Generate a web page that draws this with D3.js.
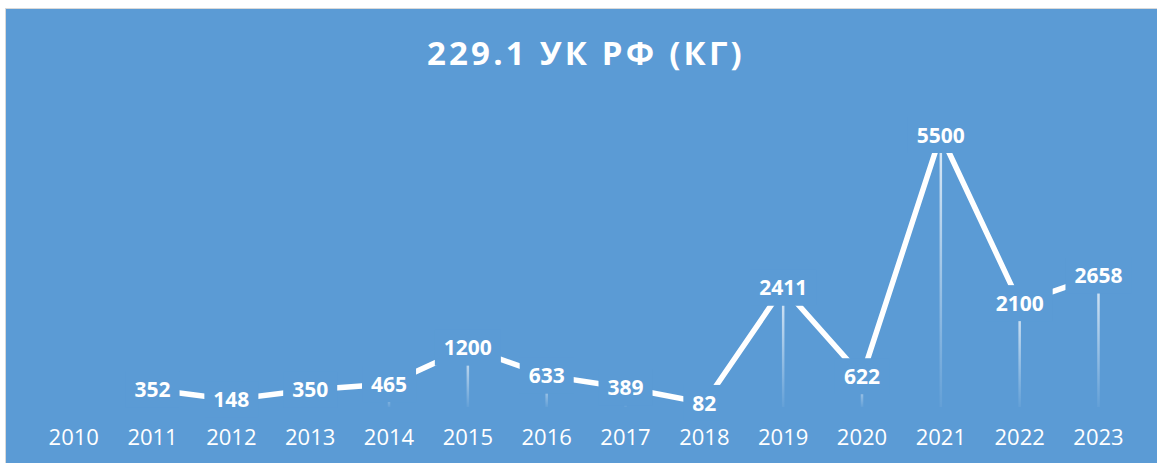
<!DOCTYPE html>
<html>
<head>
<meta charset="utf-8">
<script src="https://cdn.jsdelivr.net/npm/d3@7"></script>
<style>
  body { margin: 0; background: #fff; }
  svg { display: block; }
</style>
</head>
<body>
<svg id="chart" width="1157" height="463"></svg>
<script>
const years = ['2010', '2011', '2012', '2013', '2014', '2015', '2016', '2017', '2018', '2019', '2020', '2021', '2022', '2023']
const values = [null, 352, 148, 350, 465, 1200, 633, 389, 82, 2411, 622, 5500, 2100, 2658]
const title = '229.1 УК РФ (КГ)'

const blue = '#5b9bd5'
const width = 1157, height = 463

const svg = d3.select('#chart')

// chart area with thin grey frame
svg.append('rect')
    .attr('x', 5.5).attr('y', 8.5)
    .attr('width', width).attr('height', height)
    .attr('fill', blue)
    .attr('stroke', '#d9d9d9')
    .attr('stroke-width', 1)

const x = d3.scaleBand()
    .domain(years)
    .range([34.3, 1137.9])

const y = d3.scaleLinear()
    .domain([0, 5500])
    .range([407, 135])

const data = years.map((yr, i) => ({year: yr, value: values[i]}))
    .filter(d => d.value != null)

const cx = d => x(d.year) + x.bandwidth() / 2

// title
svg.append('text')
    .attr('x', 586).attr('y', 65)
    .attr('text-anchor', 'middle')
    .attr('fill', '#fff')
    .attr('font-family', 'Open Sans')
    .attr('font-weight', 700)
    .attr('font-size', 33)
    .attr('letter-spacing', 3.2)
    .text(title)

// year axis, no line, no ticks
const axis = svg.append('g')
    .attr('transform', 'translate(0,407)')
    .call(d3.axisBottom(x).tickSize(0))
axis.select('.domain').remove()
axis.selectAll('text')
    .attr('y', 30)
    .attr('dy', '0.36em')
    .attr('fill', '#fff')
    .attr('font-family', 'Open Sans')
    .attr('font-size', 22)

// fading drop lines
const grad = svg.append('defs').append('linearGradient')
    .attr('id', 'drop')
    .attr('x1', 0).attr('y1', 0).attr('x2', 0).attr('y2', 1)
grad.append('stop').attr('offset', '0%').attr('stop-color', '#fff').attr('stop-opacity', 0.8)
grad.append('stop').attr('offset', '100%').attr('stop-color', '#fff').attr('stop-opacity', 0.05)

svg.selectAll('.drop')
    .data(data)
    .enter().append('rect')
    .attr('class', 'drop')
    .attr('x', d => cx(d) - 1.25)
    .attr('y', d => y(d.value))
    .attr('width', 2.5)
    .attr('height', d => y(0) - y(d.value))
    .attr('fill', 'url(#drop)')

// series line
const line = d3.line()
    .x(d => cx(d))
    .y(d => y(d.value))

svg.append('path')
    .datum(data)
    .attr('fill', 'none')
    .attr('stroke', '#fff')
    .attr('stroke-width', 5.5)
    .attr('d', line)

// data labels on a blue box that cuts the line
const labels = svg.selectAll('.lbl')
    .data(data)
    .enter().append('g')
    .attr('class', 'lbl')
    .attr('transform', d => `translate(${cx(d)},${y(d.value)})`)

labels.append('rect').attr('fill', blue)
labels.append('text')
    .attr('text-anchor', 'middle')
    .attr('dy', '0.36em')
    .attr('fill', '#fff')
    .attr('font-family', 'Open Sans')
    .attr('font-weight', 700)
    .attr('font-size', 21)
    .text(d => d.value)

labels.each(function() {
    const g = d3.select(this)
    const w = g.select('text').node().getComputedTextLength()
    g.select('rect')
        .attr('x', -w / 2 - 9).attr('y', -18)
        .attr('width', w + 18).attr('height', 36)
})
</script>
</body>
</html>
